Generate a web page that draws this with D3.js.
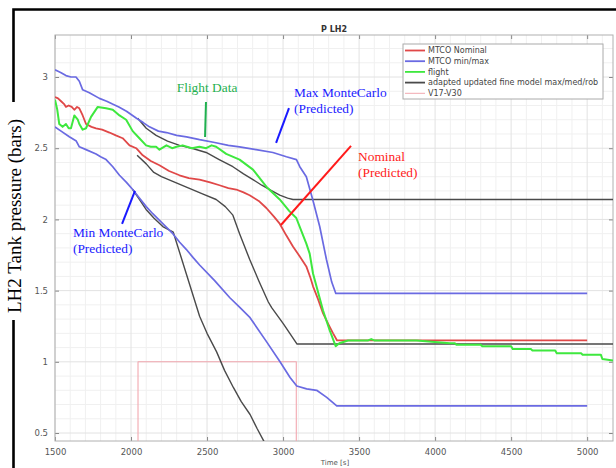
<!DOCTYPE html>
<html>
<head>
<meta charset="utf-8">
<script src="https://cdn.jsdelivr.net/npm/d3@7"></script>
<style>
  body { margin: 0; background: #fff; }
  svg { display: block; }
</style>
</head>
<body>
<svg id="chart" width="616" height="468"></svg>
<script>
// [time s, pressure bar]
const mtcoNominal = [[1500,2.86],[1520,2.85],[1540,2.83],[1560,2.81],[1572,2.79],[1590,2.80],[1610,2.79],[1627,2.77],[1645,2.79],[1660,2.78],[1682,2.73],[1704,2.67],[1740,2.65],[1770,2.64],[1810,2.63],[1858,2.61],[1900,2.59],[1945,2.57],[1990,2.52],[2034,2.50],[2077,2.45],[2130,2.41],[2187,2.38],[2250,2.34],[2319,2.31],[2380,2.29],[2451,2.28],[2520,2.26],[2582,2.24],[2640,2.22],[2692,2.21],[2740,2.19],[2780,2.17],[2840,2.13],[2890,2.08],[2940,2.02],[2978,1.97],[3020,1.89],[3065,1.81],[3110,1.74],[3153,1.67],[3180,1.59],[3197,1.53],[3230,1.44],[3263,1.34],[3300,1.26],[3329,1.20],[3355,1.15],[5000,1.15]];

const mtcoMax = [[1500,3.05],[1520,3.04],[1540,3.03],[1572,3.01],[1605,3.00],[1638,3.00],[1660,2.97],[1682,2.91],[1726,2.89],[1792,2.85],[1840,2.83],[1878,2.81],[1920,2.79],[1970,2.76],[2036,2.71],[2080,2.68],[2121,2.65],[2180,2.62],[2233,2.61],[2300,2.59],[2365,2.58],[2451,2.56],[2550,2.54],[2640,2.52],[2713,2.51],[2823,2.49],[2933,2.47],[3022,2.44],[3088,2.42],[3110,2.37],[3153,2.30],[3195,2.14],[3241,1.95],[3285,1.72],[3320,1.56],[3347,1.48],[5000,1.48]];

const mtcoMin = [[1500,2.65],[1540,2.62],[1594,2.58],[1640,2.55],[1660,2.51],[1704,2.49],[1770,2.46],[1800,2.44],[1836,2.42],[1880,2.37],[1924,2.31],[1970,2.26],[2011,2.21],[2055,2.15],[2100,2.09],[2143,2.04],[2209,1.97],[2275,1.90],[2320,1.84],[2363,1.79],[2410,1.73],[2451,1.68],[2550,1.57],[2650,1.45],[2717,1.38],[2783,1.31],[2892,1.14],[2980,1.00],[3046,0.89],[3090,0.83],[3155,0.81],[3221,0.80],[3287,0.75],[3353,0.69],[5000,0.69]];

const flight = [[1500,2.84],[1515,2.77],[1528,2.67],[1550,2.65],[1572,2.67],[1590,2.64],[1605,2.64],[1627,2.73],[1650,2.70],[1660,2.67],[1682,2.63],[1704,2.64],[1737,2.72],[1781,2.79],[1836,2.78],[1880,2.77],[1924,2.73],[1968,2.70],[2011,2.62],[2055,2.57],[2099,2.52],[2130,2.51],[2165,2.51],[2187,2.49],[2233,2.52],[2270,2.50],[2300,2.51],[2340,2.52],[2400,2.50],[2450,2.51],[2494,2.50],[2530,2.52],[2560,2.51],[2626,2.46],[2714,2.42],[2802,2.35],[2890,2.23],[2978,2.14],[3040,2.06],[3087,2.01],[3120,1.92],[3153,1.83],[3175,1.76],[3197,1.62],[3263,1.36],[3307,1.22],[3346,1.11],[3370,1.13],[3427,1.15],[3560,1.15],[3580,1.16],[3600,1.15],[3878,1.15],[4097,1.13],[4130,1.13],[4140,1.12],[4300,1.12],[4310,1.11],[4500,1.11],[4510,1.09],[4630,1.09],[4640,1.08],[4790,1.08],[4800,1.06],[4960,1.06],[4970,1.05],[5090,1.05],[5100,1.02],[5170,1.01]];

const adaptedMax = [[2044,2.71],[2100,2.64],[2165,2.59],[2240,2.55],[2319,2.52],[2400,2.50],[2494,2.47],[2580,2.42],[2670,2.37],[2740,2.32],[2802,2.28],[2860,2.24],[2912,2.21],[2978,2.17],[3030,2.15],[3065,2.14],[5170,2.14]];
const adaptedMed = [[2040,2.45],[2100,2.39],[2150,2.33],[2200,2.30],[2290,2.26],[2380,2.22],[2470,2.18],[2560,2.14],[2620,2.09],[2670,2.03],[2714,1.90],[2780,1.72],[2840,1.57],[2903,1.42],[2925,1.38],[3000,1.27],[3092,1.125],[5170,1.125]];
const adaptedRob = [[2011,2.21],[2055,2.14],[2099,2.07],[2150,2.01],[2209,1.95],[2278,1.91],[2366,1.61],[2451,1.32],[2500,1.20],[2563,1.07],[2615,0.94],[2673,0.82],[2725,0.72],[2783,0.63],[2830,0.53],[2870,0.45],[2900,0.39]];

const v17v30 = [[2046,0.40],[2046,1.0],[3087,1.0],[3087,0.40]];

const xTicks = [1500, 2000, 2500, 3000, 3500, 4000, 4500, 5000];
const yTicks = [0.5, 1, 1.5, 2, 2.5, 3];
const legendLabels = ['MTCO Nominal', 'MTCO min/max', 'flight', 'adapted updated fine model max/med/rob', 'V17-V30'];
const legendColors = ['#e04848', '#6a6ae2', '#3ee83e', '#4a4a4a', '#f2a8b0'];

// callouts: text lines + pointer, in data units
const callouts = [
  { lines: ['Flight Data'], t: 2500, p: 2.895, anchor: 'middle', color: '#1fb04f', from: [2493, 2.825], to: [2487, 2.579] },
  { lines: ['Max MonteCarlo', '(Predicted)'], t: 3072, p: 2.86, anchor: 'start', color: '#1a1aff', from: [3039, 2.782], to: [2954, 2.537] },
  { lines: ['Nominal', '(Predicted)'], t: 3493, p: 2.41, anchor: 'start', color: '#ff1a1a', from: [3447, 2.516], to: [2986, 1.961] },
  { lines: ['Min MonteCarlo', '(Predicted)'], t: 1618, p: 1.877, anchor: 'start', color: '#1a1aff', from: [2026, 2.20], to: [1941, 1.968] }
];

const svg = d3.select('#chart');
const plot = { left: 55, top: 35, right: 613, bottom: 441 };

const x = d3.scaleLinear().domain([1500, 5170]).range([plot.left, plot.right]);
const y = d3.scaleLinear().domain([0.444, 3.295]).range([plot.bottom, plot.top]);

svg.append('rect').attr('width', 616).attr('height', 468).attr('fill', '#fff');

// outer black frame, broken by the axis label
const frame = svg.append('g').attr('stroke', '#000').attr('stroke-width', 2.6).attr('fill', 'none');
frame.append('path').attr('d', 'M13.5,102 V9.5 H616');
frame.append('path').attr('d', 'M13.5,320 V468');

svg.append('defs').append('clipPath').attr('id', 'clip')
  .append('rect')
  .attr('x', plot.left).attr('y', plot.top)
  .attr('width', plot.right - plot.left).attr('height', plot.bottom - plot.top);

// grid
const grid = svg.append('g');
grid.selectAll('.xminor').data(d3.range(1600, 5170, 100).filter(d => d % 500 !== 0))
  .join('line')
  .attr('x1', d => x(d)).attr('x2', d => x(d))
  .attr('y1', plot.top).attr('y2', plot.bottom)
  .attr('stroke', '#f0f0f0').attr('stroke-width', 1);
grid.selectAll('.yminor').data(d3.range(0.5, 3.3, 0.1).filter(d => Math.abs(d * 2 - Math.round(d * 2)) > 0.01))
  .join('line')
  .attr('x1', plot.left).attr('x2', plot.right)
  .attr('y1', d => y(d)).attr('y2', d => y(d))
  .attr('stroke', '#f0f0f0').attr('stroke-width', 1);
grid.selectAll('.xmajor').data(xTicks)
  .join('line')
  .attr('x1', d => x(d)).attr('x2', d => x(d))
  .attr('y1', plot.top).attr('y2', plot.bottom)
  .attr('stroke', '#e2e2e2').attr('stroke-width', 1);
grid.selectAll('.ymajor').data(yTicks)
  .join('line')
  .attr('x1', plot.left).attr('x2', plot.right)
  .attr('y1', d => y(d)).attr('y2', d => y(d))
  .attr('stroke', '#e2e2e2').attr('stroke-width', 1);

// axes (ticks inside, box on)
const tickFont = g => g.selectAll('text')
  .attr('font-family', 'DejaVu Sans, sans-serif').attr('font-size', '8.5px').attr('fill', '#555');

svg.append('g').attr('transform', `translate(0,${plot.bottom})`)
  .call(d3.axisBottom(x).tickValues(xTicks).tickSize(-4).tickPadding(8).tickFormat(d3.format('d')))
  .call(g => g.select('.domain').remove())
  .call(g => g.selectAll('line').attr('stroke', '#888'))
  .call(tickFont);
svg.append('g').attr('transform', `translate(0,${plot.top})`)
  .call(d3.axisTop(x).tickValues(xTicks).tickSize(-4).tickFormat(''))
  .call(g => g.select('.domain').remove())
  .call(g => g.selectAll('line').attr('stroke', '#888'));
svg.append('g').attr('transform', `translate(${plot.left},0)`)
  .call(d3.axisLeft(y).tickValues(yTicks).tickSize(-4).tickPadding(7).tickFormat(d3.format('~g')))
  .call(g => g.select('.domain').remove())
  .call(g => g.selectAll('line').attr('stroke', '#888'))
  .call(tickFont);
svg.append('g').attr('transform', `translate(${plot.right},0)`)
  .call(d3.axisRight(y).tickValues(yTicks).tickSize(-4).tickFormat(''))
  .call(g => g.select('.domain').remove())
  .call(g => g.selectAll('line').attr('stroke', '#888'));

svg.append('rect')
  .attr('x', plot.left).attr('y', plot.top)
  .attr('width', plot.right - plot.left).attr('height', plot.bottom - plot.top)
  .attr('fill', 'none').attr('stroke', '#b0b0b0').attr('stroke-width', 1);

// series
const line = d3.line().x(d => x(d[0])).y(d => y(d[1]));
const series = svg.append('g').attr('clip-path', 'url(#clip)').attr('fill', 'none')
  .attr('stroke-linejoin', 'round');

series.append('path').attr('d', line(v17v30)).attr('stroke', legendColors[4]).attr('stroke-width', 1.1);
[adaptedMax, adaptedMed, adaptedRob].forEach(s => {
  series.append('path').attr('d', line(s)).attr('stroke', legendColors[3]).attr('stroke-width', 1.4);
});
[mtcoMax, mtcoMin].forEach(s => {
  series.append('path').attr('d', line(s)).attr('stroke', legendColors[1]).attr('stroke-width', 1.7);
});
series.append('path').attr('d', line(mtcoNominal)).attr('stroke', legendColors[0]).attr('stroke-width', 1.8);
series.append('path').attr('d', line(flight)).attr('stroke', legendColors[2]).attr('stroke-width', 2);

// title + x label
svg.append('text').attr('x', (plot.left + plot.right) / 2).attr('y', 32)
  .attr('text-anchor', 'middle').attr('font-family', 'DejaVu Sans, sans-serif')
  .attr('font-size', '8px').attr('font-weight', 'bold').attr('fill', '#333')
  .text('P LH2');
svg.append('text').attr('x', (plot.left + plot.right) / 2 + 1).attr('y', 465)
  .attr('text-anchor', 'middle').attr('font-family', 'DejaVu Sans, sans-serif')
  .attr('font-size', '7px').attr('fill', '#555')
  .text('Time [s]');

// y label
svg.append('text')
  .attr('transform', 'translate(21,216) rotate(-90)')
  .attr('text-anchor', 'middle')
  .attr('font-family', 'Liberation Serif, Times New Roman, serif')
  .attr('font-size', '19px').attr('fill', '#000')
  .text('LH2 Tank pressure (bars)');

// legend
const legend = svg.append('g').attr('transform', 'translate(403,44)');
legend.append('rect').attr('width', 200).attr('height', 55)
  .attr('fill', '#fff').attr('stroke', '#aaa').attr('stroke-width', 1);
const items = legend.selectAll('.item').data(legendLabels).join('g')
  .attr('transform', (d, i) => `translate(0,${6.5 + i * 10.7})`);
items.append('line').attr('x1', 2).attr('x2', 22)
  .attr('stroke', (d, i) => legendColors[i]).attr('stroke-width', (d, i) => i === 4 ? 1 : 1.8);
items.append('text').attr('x', 25).attr('dy', '0.35em')
  .attr('font-family', 'DejaVu Sans, sans-serif').attr('font-size', '8px').attr('fill', '#444')
  .text(d => d);

// callouts
const notes = svg.append('g');
callouts.forEach(c => {
  notes.append('line')
    .attr('x1', x(c.from[0])).attr('y1', y(c.from[1]))
    .attr('x2', x(c.to[0])).attr('y2', y(c.to[1]))
    .attr('stroke', c.color).attr('stroke-width', 2);
  const t = notes.append('text')
    .attr('x', x(c.t)).attr('y', y(c.p))
    .attr('text-anchor', c.anchor)
    .attr('font-family', 'Liberation Serif, Times New Roman, serif')
    .attr('font-size', '13.4px').attr('fill', c.color);
  c.lines.forEach((l, i) => {
    t.append('tspan').attr('x', x(c.t)).attr('dy', i === 0 ? 0 : 16).text(l);
  });
});
</script>
</body>
</html>
